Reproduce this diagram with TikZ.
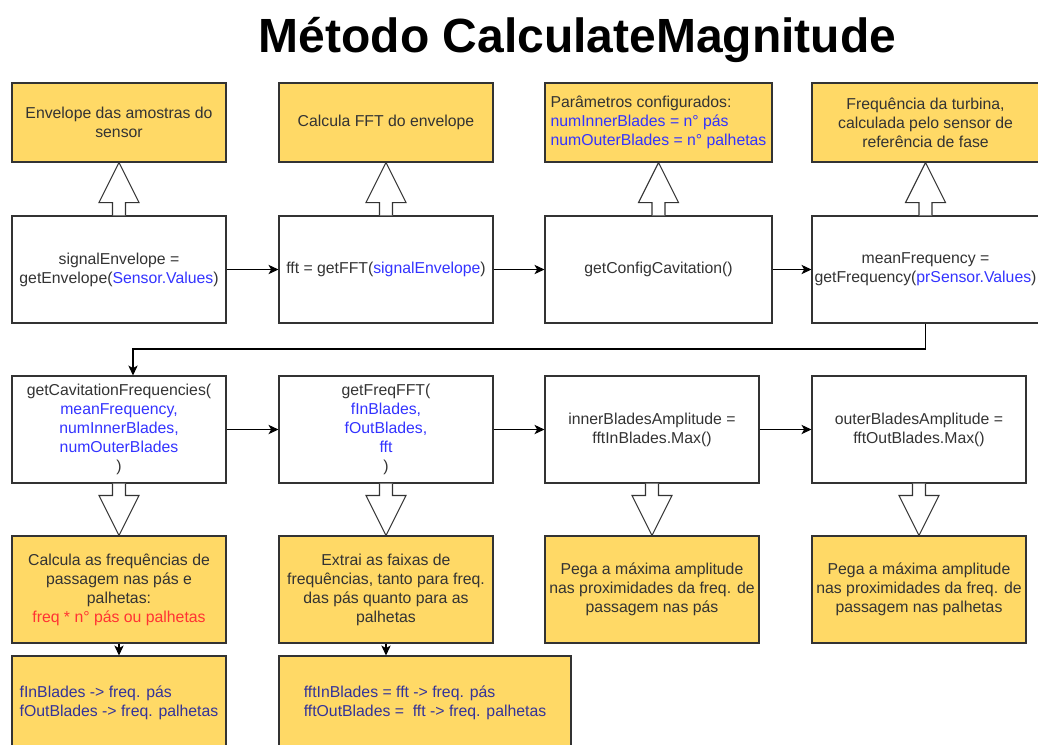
\documentclass[tikz,border=0pt]{standalone}
\usepackage{fontspec}
\setmainfont{Liberation Sans}
\usetikzlibrary{calc,arrows.meta}

\definecolor{note}{HTML}{FFD966}
\definecolor{edge}{HTML}{333333}
\definecolor{ink}{HTML}{333333}
\definecolor{arg}{HTML}{3333FF}
\definecolor{res}{HTML}{333399}
\definecolor{hot}{HTML}{FF3333}

\tikzset{
  box/.style={draw=edge, line width=0.8pt, text=ink, align=center,
    inner sep=0.5pt, minimum width=160.5pt, minimum height=80.25pt},
  wide/.style={minimum width=170.25pt},
  info/.style={box, fill=note},
  flow/.style={-{Stealth[length=7.5pt,width=7pt,inset=2pt]}, draw=black, line width=0.8pt},
  hollow/.style={draw=edge, line width=0.8pt, fill=white, line join=miter}
}

% hollow block arrow from #1 to #2
\def\shaft{4.875pt} % half width of the shaft
\def\headw{15pt} % half width of the head
\def\headlen{30pt} % length of the head
\newcommand{\fatarrow}[2]{%
  \coordinate (hb) at ($(#2)!\headlen!(#1)$);
  \draw[hollow] ($(#1)!\shaft!90:(#2)$) -- ($(hb)!\shaft!90:(#2)$)
    -- ($(hb)!\headw!90:(#2)$) -- (#2) -- ($(hb)!\headw!-90:(#2)$)
    -- ($(hb)!\shaft!-90:(#2)$) -- ($(#1)!\shaft!-90:(#2)$);
}

\begin{document}
\begin{tikzpicture}[x=0.75pt, y=-0.75pt, font=\fontsize{11.85}{14.25}\selectfont]
  \useasboundingbox (0,0) rectangle (1038,744);

  \node[anchor=base, font=\bfseries\fontsize{36}{40}\selectfont] (title)
    at (577.5,52) {Método CalculateMagnitude};

  % first row: notes
  \node[info, minimum height=59.25pt] (a1) at (119,122.5) {Envelope das amostras do\\sensor};
  \node[info, minimum height=59.25pt] (a2) at (386,122.5) {Calcula FFT do envelope};
  \node[info, wide, minimum height=59.25pt, align=left] (a3) at (658.5,122.5)
    {Parâmetros configurados:\\\textcolor{arg}{numInnerBlades = n° pás}\\\textcolor{arg}{numOuterBlades = n° palhetas}};
  \node[info, wide, minimum height=59.25pt] (a4) at (925.5,122.5)
    {Frequência da turbina,\\calculada pelo sensor de\\referência de fase};

  % second row: calls
  \node[box] (b1) at (119,269.5) {signalEnvelope =\\getEnvelope(\textcolor{arg}{Sensor.Values})};
  \node[box] (b2) at (386,269.5) {fft = getFFT(\textcolor{arg}{signalEnvelope})};
  \node[box, wide] (b3) at (658.5,269.5) {getConfigCavitation()};
  \node[box, wide] (b4) at (925.5,269.5) {meanFrequency =\\getFrequency(\textcolor{arg}{prSensor.Values})};

  % third row: calls
  \node[box] (c1) at (119,429.5) {getCavitationFrequencies(\\\textcolor{arg}{meanFrequency,}\\\textcolor{arg}{numInnerBlades,}\\\textcolor{arg}{numOuterBlades}\\)};
  \node[box] (c2) at (386,429.5) {getFreqFFT(\\\textcolor{arg}{fInBlades,}\\\textcolor{arg}{fOutBlades,}\\\textcolor{arg}{fft}\\)};
  \node[box] (c3) at (652,429.5) {innerBladesAmplitude =\\fftInBlades.Max()};
  \node[box] (c4) at (919,429.5) {outerBladesAmplitude =\\fftOutBlades.Max()};

  % fourth row: notes
  \node[info] (d1) at (119,589.5) {Calcula as frequências de\\passagem nas pás e\\palhetas:\\\textcolor{hot}{freq * n° pás ou palhetas}};
  \node[info] (d2) at (386,589.5) {Extrai as faixas de\\frequências, tanto para freq.\\das pás quanto para as\\palhetas};
  \node[info] (d3) at (652,589.5) {Pega a máxima amplitude\\nas proximidades da freq. de\\passagem nas pás};
  \node[info] (d4) at (919,589.5) {Pega a máxima amplitude\\nas proximidades da freq. de\\passagem nas palhetas};

  % results
  \node[info, minimum height=70.5pt, align=left, text=res] (e1) at (119,703)
    {fInBlades -> freq. pás\\fOutBlades -> freq. palhetas};
  \node[info, minimum width=219pt, minimum height=70.5pt, align=left, text=res] (e2) at (425,703)
    {fftInBlades = fft -> freq. pás\\fftOutBlades = \ fft -> freq. palhetas};

  % hollow arrows
  \foreach \i in {1,...,4} {
    \fatarrow{b\i.north}{a\i.south}
    \fatarrow{c\i.south}{d\i.north}
  }

  % sequence
  \draw[flow] (b1) -- (b2);
  \draw[flow] (b2) -- (b3);
  \draw[flow] (b3) -- (b4);
  \coordinate (turn) at (133,349);
  \draw[flow] (b4.south) |- (turn) -- (turn |- c1.north);
  \draw[flow] (c1) -- (c2);
  \draw[flow] (c2) -- (c3);
  \draw[flow] (c3) -- (c4);
  \draw[flow] (d1.south) -- (d1.south |- e1.north);
  \draw[flow] (d2.south) -- (d2.south |- e2.north);
\end{tikzpicture}
\end{document}
